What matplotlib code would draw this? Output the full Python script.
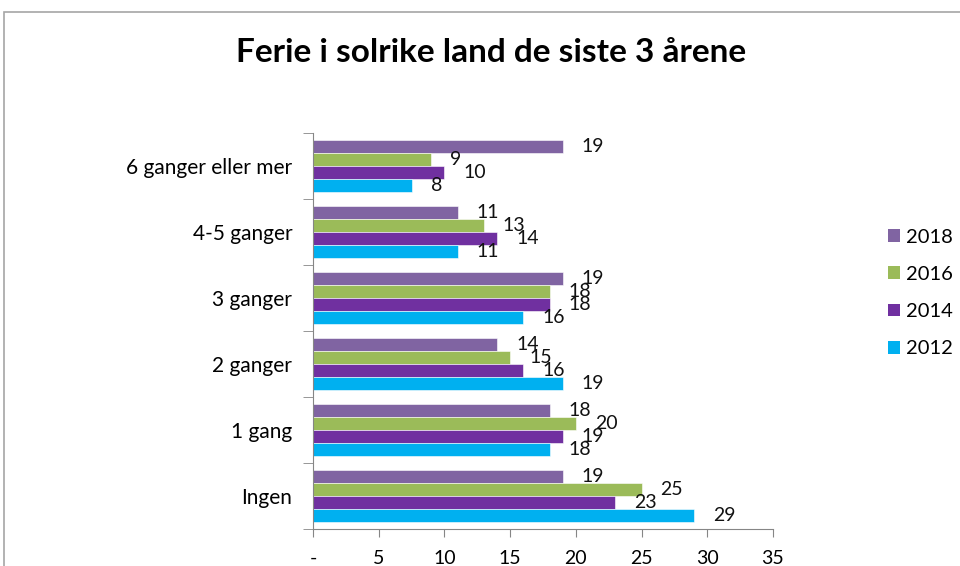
import matplotlib
matplotlib.use("Agg")
import matplotlib.pyplot as plt
from matplotlib.patches import Patch, Rectangle
import numpy as np

plt.rcParams['font.family'] = ['Lato', 'DejaVu Sans']

categories = ["Ingen", "1 gang", "2 ganger", "3 ganger", "4-5 ganger", "6 ganger eller mer"]
series_names = ["2018", "2016", "2014", "2012"]
v2018 = [19, 18, 14, 19, 11, 19]
v2016 = [25, 20, 15, 18, 13, 9]
v2014 = [23, 19, 16, 18, 14, 10]
v2012 = [29, 18, 19, 16, 11, 7.5]
colors = ["#8064A2", "#9BBB59", "#7030A0", "#00B0F0"]
xticks = [0, 5, 10, 15, 20, 25, 30, 35]
xticklabels = ["-", "5", "10", "15", "20", "25", "30", "35"]

fig = plt.figure(figsize=(9.6, 5.66), dpi=100)
ax = fig.add_axes([313/960, 1-529/566, (773-313)/960, (529-133)/566])

y = np.arange(len(categories))
h = 0.197
offsets = [1.5*h, 0.5*h, -0.5*h, -1.5*h]
all_vals = [v2018, v2016, v2014, v2012]
for vals, off, col, name in zip(all_vals, offsets, colors, series_names):
    ax.barh(y + off, vals, height=h, color=col, edgecolor='white', linewidth=0.4, label=name)
    for yi, v in zip(y, vals):
        ax.annotate(f"{v:.0f}", xy=(v, yi + off), xytext=(19, 0), textcoords='offset pixels',
                    ha='left', va='center', fontsize=14, color='#111111')

ax.set_xlim(0, 35)
ax.set_ylim(-0.5, 5.5)
ax.set_xticks(xticks)
ax.set_xticklabels(xticklabels, fontsize=14)
ax.set_yticks(y)
ax.set_yticklabels(categories, fontsize=15)
ax.set_yticks(np.arange(-0.5, 6.0, 1.0), minor=True)
ax.tick_params(axis='y', which='major', length=0, pad=15)
ax.tick_params(axis='y', which='minor', length=7, color='#868686', direction='out')
ax.tick_params(axis='x', which='major', length=6, color='#868686', direction='out', pad=9)
for s in ['top', 'right']:
    ax.spines[s].set_visible(False)
for s in ['left', 'bottom']:
    ax.spines[s].set_color('#868686')

fig.text(491/960, 1-52/566, "Ferie i solrike land de siste 3 årene", ha='center', va='center',
         fontsize=24, fontweight='bold', color='black')

handles = [Patch(facecolor=c, edgecolor='none', label=n) for c, n in zip(colors, series_names)]
fig.legend(handles=handles, loc='center left', bbox_to_anchor=(888/960, 1-293/566), frameon=False,
           fontsize=14.5, labelspacing=1.0, handlelength=0.6, handleheight=0.6, handletextpad=0.3,
           borderpad=0, borderaxespad=0)

fig.patches.append(Rectangle((4/960, -0.2), 2.0, 0.2 + 1-12/566, transform=fig.transFigure,
                             fill=False, edgecolor='#A6A6A6', linewidth=1.2))

fig.savefig("out.png", dpi=100)
